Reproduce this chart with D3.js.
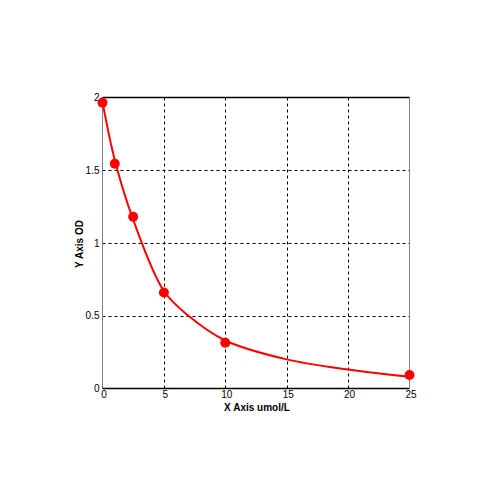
<!DOCTYPE html>
<html><head><meta charset="utf-8">
<script src="https://cdn.jsdelivr.net/npm/d3@7"></script>
<style>body{margin:0;background:#fff}svg{display:block}text{font-family:"Liberation Sans",Arial,sans-serif}</style>
</head><body><div id="chart"></div>
<script>
// Standard points
const xValues = [0, 1, 2.5, 5, 10, 25];
const yValues = [1.965, 1.545, 1.18, 0.66, 0.315, 0.093];
// Fitted curve
const curveX = [0, 1, 2.5, 5, 7, 10, 15, 20, 25];
const curveY = [1.97, 1.57, 1.16, 0.67, 0.5, 0.33, 0.2, 0.13, 0.08];
const xTicks = [0, 5, 10, 15, 20, 25];
const yTicks = [0, 0.5, 1, 1.5, 2];
const yTickLabels = ["0", "0.5", "1", "1.5", "2"];
const xTitle = "X Axis umol/L";
const yTitle = "Y Axis OD";

const W = 500, H = 500;
const L = 102.5, R = 409.5, T = 97.5, B = 388.5;
const svg = d3.select("#chart").append("svg").attr("width", W).attr("height", H);
const x = d3.scaleLinear().domain([0, 25]).range([L, R]);
const y = d3.scaleLinear().domain([0, 2]).range([B, T]);

// grid
const g = svg.append("g");
g.selectAll(".vg").data(xTicks.filter(t => t > 0 && t < 25)).enter().append("line")
  .attr("x1", d => Math.round(x(d)) + 0.5).attr("x2", d => Math.round(x(d)) + 0.5)
  .attr("y1", T).attr("y2", B).attr("stroke", "#000").attr("stroke-dasharray", "3,3");
g.selectAll(".hg").data(yTicks.filter(t => t > 0 && t < 2)).enter().append("line")
  .attr("y1", d => Math.round(y(d)) + 0.5).attr("y2", d => Math.round(y(d)) + 0.5)
  .attr("x1", L).attr("x2", R).attr("stroke", "#000").attr("stroke-dasharray", "3,3");

// frame
svg.append("line").attr("x1", L).attr("x2", L).attr("y1", T).attr("y2", B).attr("stroke", "#808080");
svg.append("line").attr("x1", R).attr("x2", R).attr("y1", T).attr("y2", B).attr("stroke", "#808080");
svg.append("line").attr("x1", L).attr("x2", R).attr("y1", T).attr("y2", T).attr("stroke", "#000").attr("stroke-width", 1.5);
svg.append("line").attr("x1", L).attr("x2", R).attr("y1", B).attr("y2", B).attr("stroke", "#000").attr("stroke-width", 1.5);

// axes
const xAxis = d3.axisBottom(x).tickValues(xTicks).tickSize(0).tickPadding(2).tickFormat(d3.format("d"));
const gx = svg.append("g").attr("transform", `translate(0,${B})`).call(xAxis);
gx.select(".domain").remove();
gx.selectAll("text").attr("font-size", 10).attr("fill", "#000").attr("font-family", "Liberation Sans, Arial, sans-serif").attr("dx", 1);

const yAxis = d3.axisLeft(y).tickValues(yTicks).tickSize(0).tickPadding(3).tickFormat((d, i) => yTickLabels[i]);
const gy = svg.append("g").attr("transform", `translate(${L},0)`).call(yAxis);
gy.select(".domain").remove();
gy.selectAll("text").attr("font-size", 10).attr("fill", "#000").attr("font-family", "Liberation Sans, Arial, sans-serif");

// titles
svg.append("text").attr("x", 257).attr("y", 411).attr("text-anchor", "middle").attr("font-size", 10).attr("font-weight", "bold").text(xTitle);
svg.append("text").attr("transform", "translate(83,244) rotate(-90)").attr("text-anchor", "middle").attr("font-size", 10).attr("font-weight", "bold").text(yTitle);

// curve
const line = d3.line().x(d => x(d[0])).y(d => y(d[1])).curve(d3.curveCatmullRom.alpha(0.5));
svg.append("path").datum(curveX.map((v, i) => [v, curveY[i]])).attr("d", line)
  .attr("fill", "none").attr("stroke", "#ff0000").attr("stroke-width", 2);

// points
svg.selectAll(".pt").data(xValues.map((v, i) => [v, yValues[i]])).enter().append("circle")
  .attr("cx", d => x(d[0])).attr("cy", d => y(d[1])).attr("r", 5).attr("fill", "#ff0000");
</script></body></html>
